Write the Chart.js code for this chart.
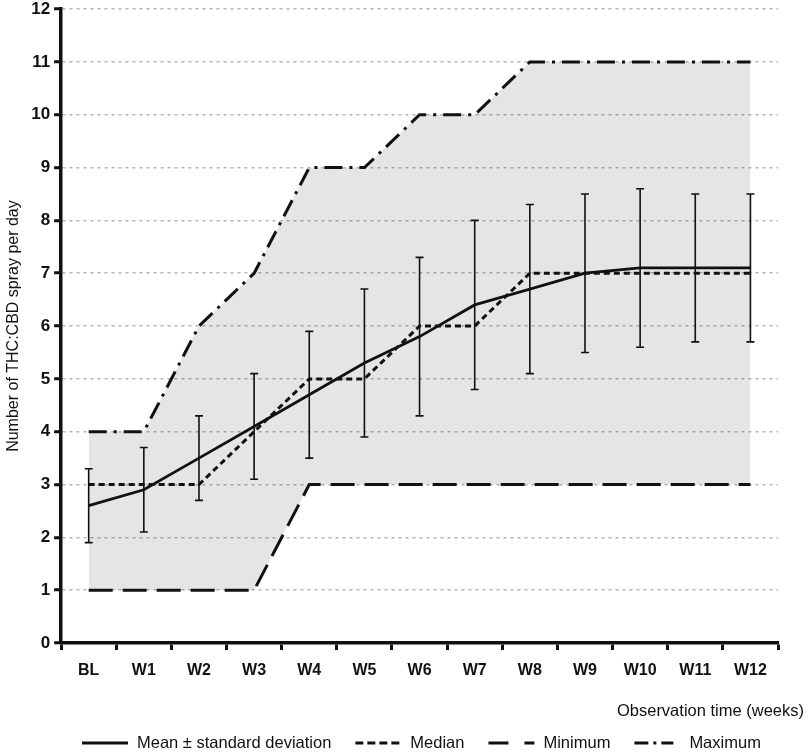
<!DOCTYPE html>
<html>
<head>
<meta charset="utf-8">
<script src="https://cdn.jsdelivr.net/npm/chart.js@4/dist/chart.umd.min.js"></script>
<style>
  html, body { margin:0; padding:0; background:#fff; }
  #wrap { width:808px; height:756px; }
</style>
</head>
<body>
<div id="wrap"><canvas id="c" width="808" height="756"></canvas></div>
<script>
/* ── DATOS ── */
const SEMANAS  = ['BL','W1','W2','W3','W4','W5','W6','W7','W8','W9','W10','W11','W12'];
const MEDIA    = [2.6, 2.9, 3.5, 4.1, 4.7, 5.3, 5.8, 6.4, 6.7, 7.0, 7.1, 7.1, 7.1];
const SD_BAJO  = [1.9, 2.1, 2.7, 3.1, 3.5, 3.9, 4.3, 4.8, 5.1, 5.5, 5.6, 5.7, 5.7];
const SD_ALTO  = [3.3, 3.7, 4.3, 5.1, 5.9, 6.7, 7.3, 8.0, 8.3, 8.5, 8.6, 8.5, 8.5];
const MEDIANA  = [3, 3, 3, 4, 5, 5, 6, 6, 7, 7, 7, 7, 7];
const MINIMO   = [1, 1, 1, 1, 3, 3, 3, 3, 3, 3, 3, 3, 3];
const MAXIMO   = [4, 4, 6, 7, 9, 9, 10, 10, 11, 11, 11, 11, 11];
const Y_TICKS  = [0,1,2,3,4,5,6,7,8,9,10,11,12];

const FONT = 'Arial, "Liberation Sans", sans-serif';

// barras de error (media ± DE)
const errorBars = {
  id: 'errorBars',
  afterDatasetsDraw(chart) {
    const { ctx, scales: { x, y } } = chart;
    ctx.save();
    ctx.strokeStyle = '#111';
    ctx.lineWidth = 1.6;
    SEMANAS.forEach((s, i) => {
      const px = x.getPixelForValue(i);
      const lo = y.getPixelForValue(SD_BAJO[i]);
      const hi = y.getPixelForValue(SD_ALTO[i]);
      ctx.beginPath();
      ctx.moveTo(px, lo); ctx.lineTo(px, hi);
      ctx.moveTo(px - 4, lo); ctx.lineTo(px + 4, lo);
      ctx.moveTo(px - 4, hi); ctx.lineTo(px + 4, hi);
      ctx.stroke();
    });
    ctx.restore();
  }
};

// título eje X (derecha) + leyenda con trazos
const extras = {
  id: 'extras',
  afterDraw(chart) {
    const { ctx, scales: { x } } = chart;
    ctx.save();
    ctx.font = '16.5px ' + FONT;
    ctx.fillStyle = '#111';
    ctx.textAlign = 'right';
    ctx.textBaseline = 'middle';
    ctx.fillText('Observation time (weeks)', chart.width - 4, x.top + 68);

    // leyenda
    const yl = chart.height - 13;
    const legendDash = [[], [8, 4], [20, 16, 10, 60], [14, 5, 3, 5, 12, 60]];
    let px = 82;
    ctx.textAlign = 'left';
    chart.data.datasets.forEach((ds, i) => {
      ctx.beginPath();
      ctx.setLineDash(legendDash[i]);
      ctx.lineWidth = 3.2;
      ctx.strokeStyle = '#111';
      ctx.moveTo(px, yl); ctx.lineTo(px + 46, yl);
      ctx.stroke();
      ctx.setLineDash([]);
      ctx.fillText(ds.label, px + 55, yl);
      px += 55 + ctx.measureText(ds.label).width + 24;
    });
    ctx.restore();
  }
};

new Chart(document.getElementById('c'), {
  type: 'line',
  data: {
    labels: SEMANAS,
    datasets: [
      { label: 'Mean ± standard deviation', data: MEDIA, borderColor: '#111', borderWidth: 2.8,
        pointRadius: 0, fill: false, tension: 0 },
      { label: 'Median', data: MEDIANA, borderColor: '#111', borderWidth: 3, borderDash: [6, 4],
        pointRadius: 0, fill: false, tension: 0 },
      { label: 'Minimum', data: MINIMO, borderColor: '#111', borderWidth: 3, borderDash: [24, 10],
        pointRadius: 0, fill: false, tension: 0 },
      { label: 'Maximum', data: MAXIMO, borderColor: '#111', borderWidth: 3, borderDash: [18, 7, 3, 7],
        pointRadius: 0, tension: 0,
        fill: { target: 2, above: 'rgba(0,0,0,0.1)', below: 'rgba(0,0,0,0.1)' } }
    ]
  },
  options: {
    responsive: false,
    animation: false,
    layout: { padding: { top: 0, right: 30, bottom: 0, left: 4 } },
    plugins: {
      tooltip: { enabled: false },
      legend: { display: false }
    },
    scales: {
      x: {
        offset: true,
        grid: { drawOnChartArea: false, tickColor: '#111', tickWidth: 3, tickLength: 7, offset: true },
        border: { color: '#111', width: 3.5 },
        ticks: { color: '#111', font: { family: FONT, size: 16, weight: 'bold' }, padding: 11 },
        afterFit(scale) { scale.height = 113; }
      },
      y: {
        min: 0, max: 12,
        afterBuildTicks(scale) { scale.ticks = Y_TICKS.map(v => ({ value: v })); },
        grid: { color: '#b5b5b5', lineWidth: 1.5, tickColor: '#111', tickWidth: 3, tickLength: 7 },
        border: { color: '#111', width: 3.5, dash: [3, 4] },
        ticks: { color: '#111', font: { family: FONT, size: 17, weight: 'bold', lineHeight: 0.6 }, padding: 4 },
        title: { display: true, text: 'Number of THC:CBD spray per day', color: '#111',
                 font: { family: FONT, size: 16 }, padding: { top: 0, bottom: 4 } }
      }
    }
  },
  plugins: [errorBars, extras]
});
</script>
</body>
</html>
